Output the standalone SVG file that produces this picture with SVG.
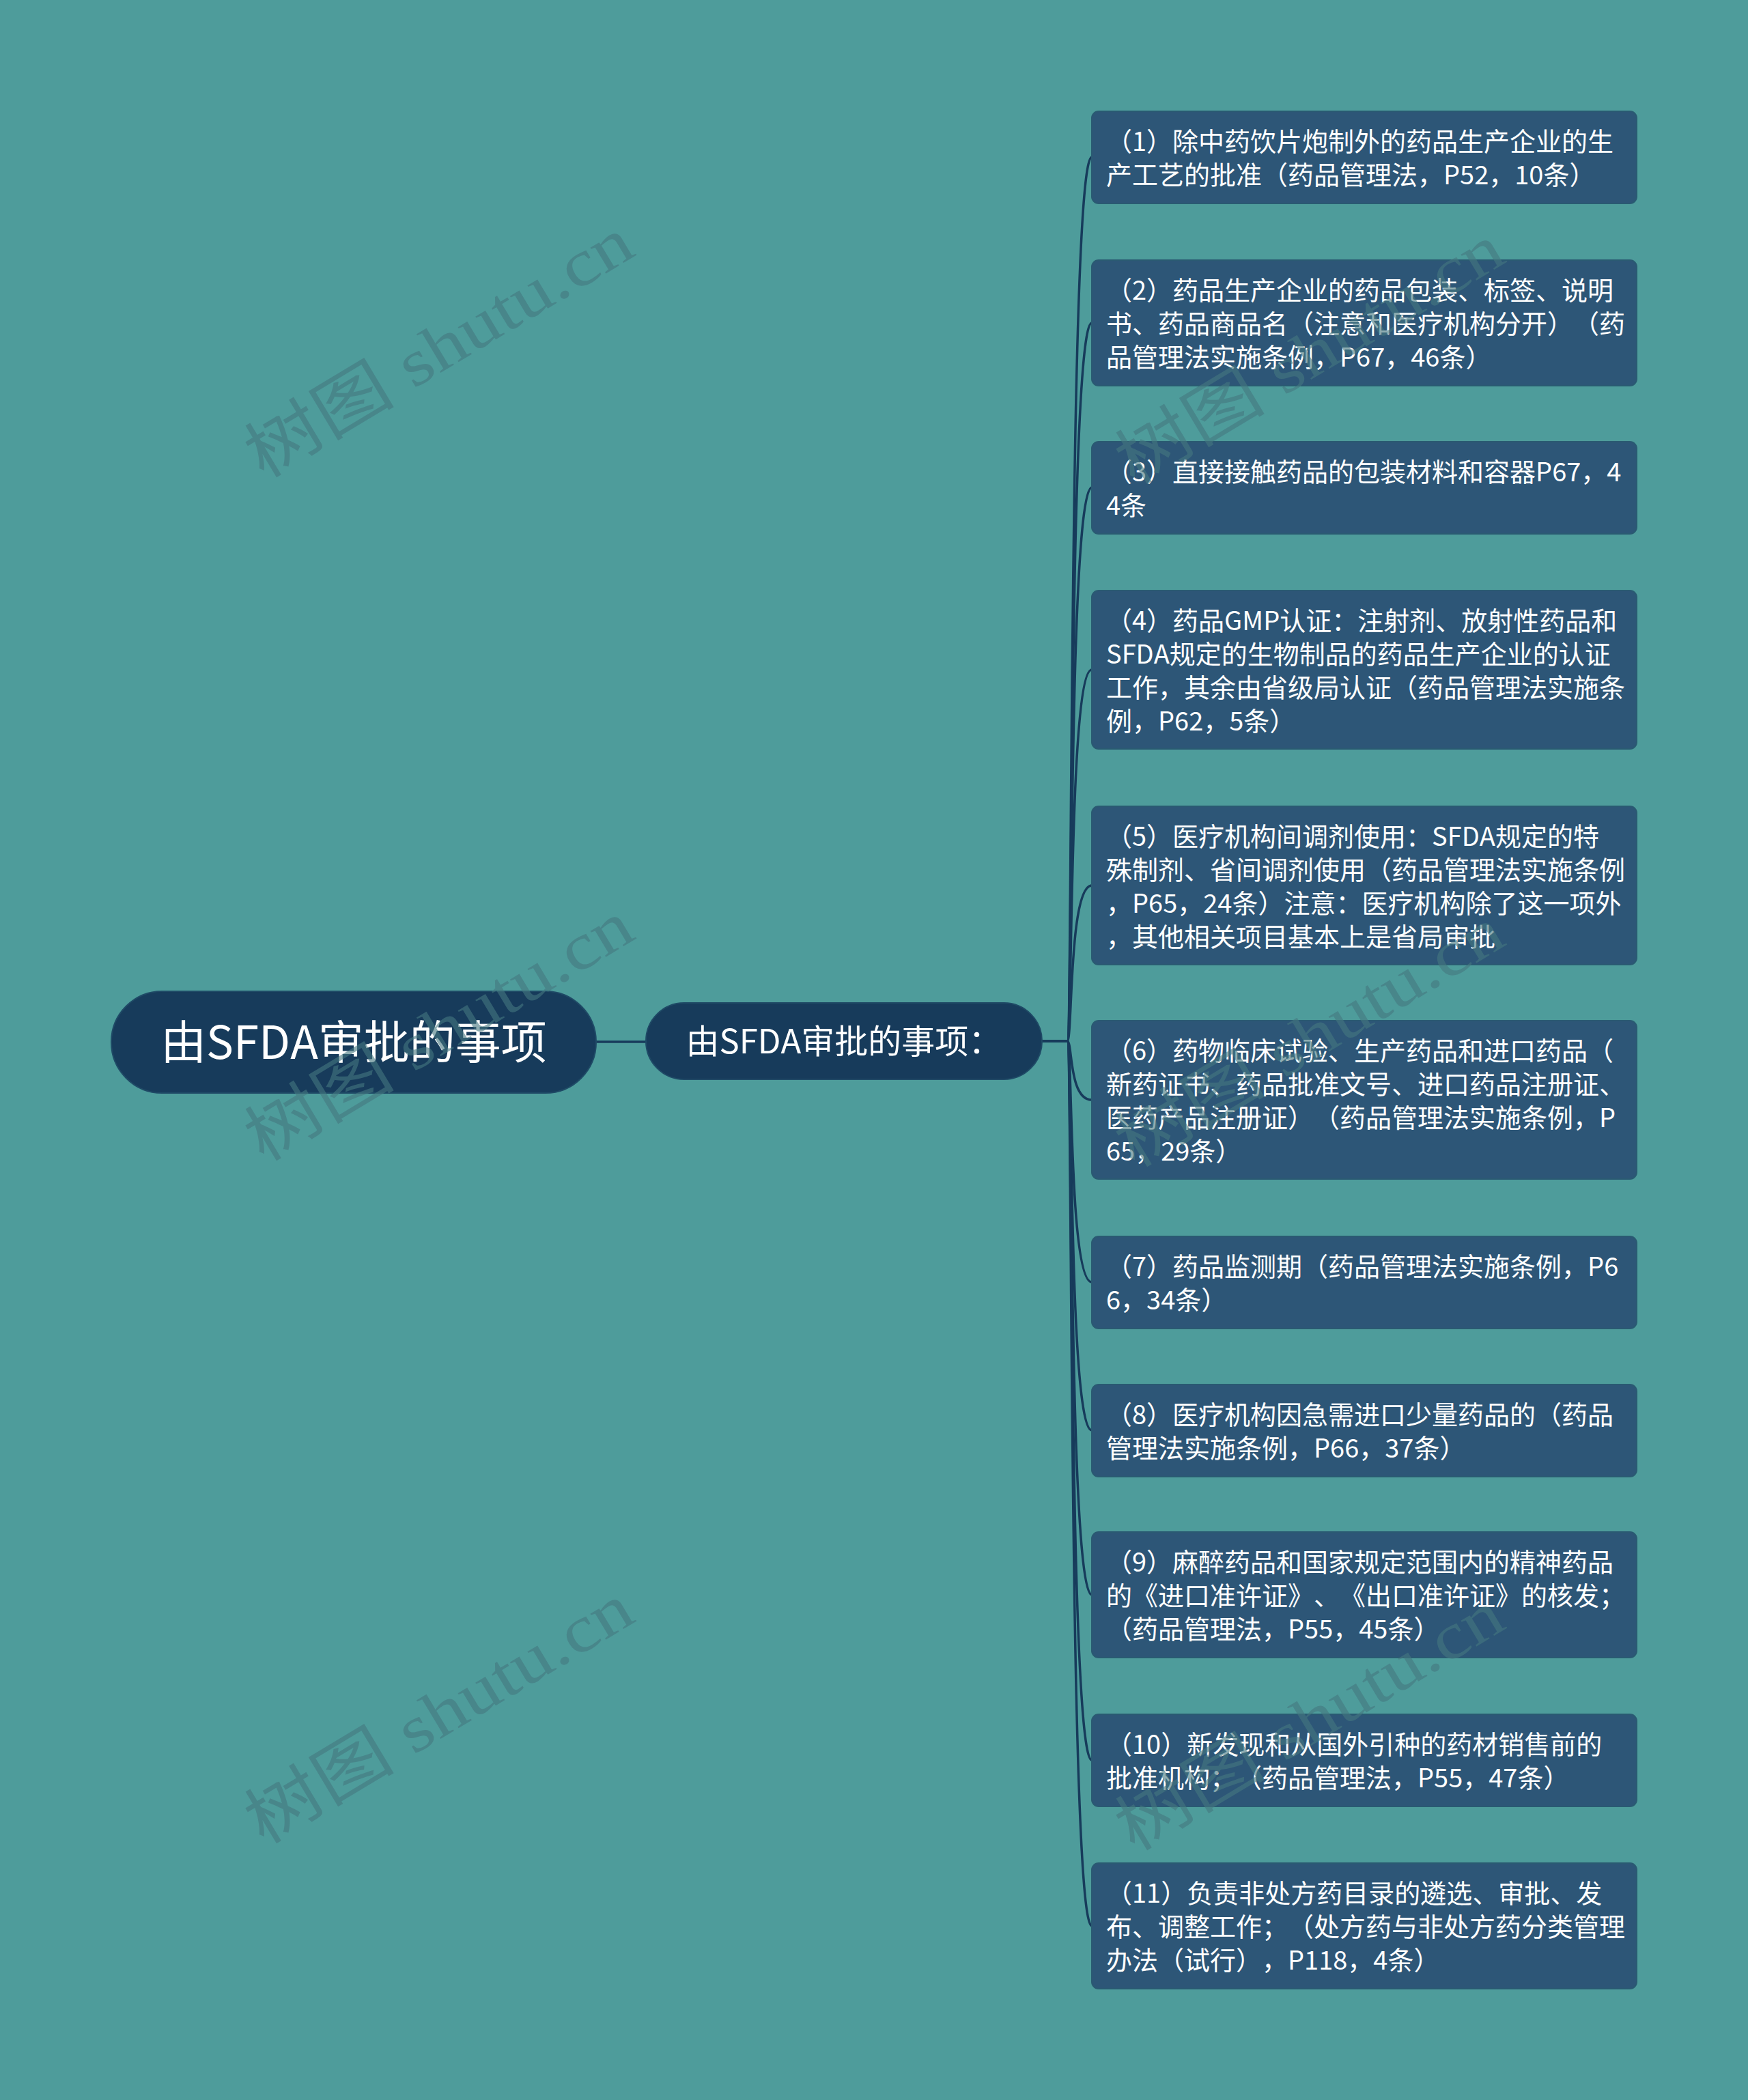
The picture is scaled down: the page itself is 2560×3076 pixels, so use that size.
<svg xmlns="http://www.w3.org/2000/svg" width="2560" height="3076" viewBox="0 0 2560 3076">
<style>
text{text-spacing-trim:space-all;font-kerning:none}
.bg{fill:#4E9C9B}
.leaf rect{fill:#2D5677;stroke:#2A5A72;stroke-width:2}
.leaf text{font-family:"Noto Sans CJK SC","Noto Sans",sans-serif;font-size:38px;fill:#FFFFFF}
.hub rect{fill:#173B5B;stroke:#1F4A66;stroke-width:2}
.hub text{font-family:"Noto Sans CJK SC","Noto Sans",sans-serif;fill:#FFFFFF;text-anchor:middle}
.edge{fill:none;stroke:#173B5B;stroke-width:3.5}
.wm{font-family:"Liberation Serif","Noto Sans CJK SC",serif;font-size:96px;fill:#457880;opacity:0.6}
</style>
<rect class="bg" x="0" y="0" width="2560" height="3076"/>

<g id="connectors">
<path class="edge" d="M873,1526 H946"/>
<path class="edge" d="M1526,1525 H1563 C1571,1525 1565,230 1599,230"/>
<path class="edge" d="M1526,1525 H1563 C1571,1525 1565,473 1599,473"/>
<path class="edge" d="M1526,1525 H1563 C1571,1525 1565,714 1599,714"/>
<path class="edge" d="M1526,1525 H1563 C1571,1525 1565,981 1599,981"/>
<path class="edge" d="M1526,1525 H1563 C1571,1525 1565,1297 1599,1297"/>
<path class="edge" d="M1526,1525 H1563 C1571,1525 1565,1611 1599,1611"/>
<path class="edge" d="M1526,1525 H1563 C1571,1525 1565,1878 1599,1878"/>
<path class="edge" d="M1526,1525 H1563 C1571,1525 1565,2095 1599,2095"/>
<path class="edge" d="M1526,1525 H1563 C1571,1525 1565,2336 1599,2336"/>
<path class="edge" d="M1526,1525 H1563 C1571,1525 1565,2578 1599,2578"/>
<path class="edge" d="M1526,1525 H1563 C1571,1525 1565,2821 1599,2821"/>
</g>

<g id="root" class="hub">
<rect x="163" y="1452" width="710" height="149" rx="74.5"/>
<text x="518" y="1551" font-size="67">由SFDA审批的事项</text>
</g>

<g id="mid" class="hub">
<rect x="946" y="1469" width="580" height="112" rx="56"/>
<text x="1236" y="1543" font-size="49">由SFDA审批的事项：</text>
</g>

<g id="leaf1" class="leaf">
<rect x="1599" y="163" width="798" height="135" rx="10"/>
<text x="1620" y="221"><tspan x="1620">（1）除中药饮片炮制外的药品生产企业的生</tspan><tspan x="1620" dy="49">产工艺的批准（药品管理法，P52，10条）</tspan></text>
</g>
<g id="leaf2" class="leaf">
<rect x="1599" y="381" width="798" height="184" rx="10"/>
<text x="1620" y="439"><tspan x="1620">（2）药品生产企业的药品包装、标签、说明</tspan><tspan x="1620" dy="49">书、药品商品名（注意和医疗机构分开）（药</tspan><tspan x="1620" dy="49">品管理法实施条例，P67，46条）</tspan></text>
</g>
<g id="leaf3" class="leaf">
<rect x="1599" y="647" width="798" height="135" rx="10"/>
<text x="1620" y="705"><tspan x="1620">（3）直接接触药品的包装材料和容器P67，4</tspan><tspan x="1620" dy="49">4条</tspan></text>
</g>
<g id="leaf4" class="leaf">
<rect x="1599" y="865" width="798" height="232" rx="10"/>
<text x="1620" y="923"><tspan x="1620">（4）药品GMP认证：注射剂、放射性药品和</tspan><tspan x="1620" dy="49">SFDA规定的生物制品的药品生产企业的认证</tspan><tspan x="1620" dy="49">工作，其余由省级局认证（药品管理法实施条</tspan><tspan x="1620" dy="49">例，P62，5条）</tspan></text>
</g>
<g id="leaf5" class="leaf">
<rect x="1599" y="1181" width="798" height="232" rx="10"/>
<text x="1620" y="1239"><tspan x="1620">（5）医疗机构间调剂使用：SFDA规定的特</tspan><tspan x="1620" dy="49">殊制剂、省间调剂使用（药品管理法实施条例</tspan><tspan x="1620" dy="49">，P65，24条）注意：医疗机构除了这一项外</tspan><tspan x="1620" dy="49">，其他相关项目基本上是省局审批</tspan></text>
</g>
<g id="leaf6" class="leaf">
<rect x="1599" y="1495" width="798" height="232" rx="10"/>
<text x="1620" y="1553"><tspan x="1620">（6）药物临床试验、生产药品和进口药品（</tspan><tspan x="1620" dy="49">新药证书、药品批准文号、进口药品注册证、</tspan><tspan x="1620" dy="49">医药产品注册证）（药品管理法实施条例，P</tspan><tspan x="1620" dy="49">65，29条）</tspan></text>
</g>
<g id="leaf7" class="leaf">
<rect x="1599" y="1811" width="798" height="135" rx="10"/>
<text x="1620" y="1869"><tspan x="1620">（7）药品监测期（药品管理法实施条例，P6</tspan><tspan x="1620" dy="49">6，34条）</tspan></text>
</g>
<g id="leaf8" class="leaf">
<rect x="1599" y="2028" width="798" height="135" rx="10"/>
<text x="1620" y="2086"><tspan x="1620">（8）医疗机构因急需进口少量药品的（药品</tspan><tspan x="1620" dy="49">管理法实施条例，P66，37条）</tspan></text>
</g>
<g id="leaf9" class="leaf">
<rect x="1599" y="2244" width="798" height="184" rx="10"/>
<text x="1620" y="2302"><tspan x="1620">（9）麻醉药品和国家规定范围内的精神药品</tspan><tspan x="1620" dy="49">的《进口准许证》、《出口准许证》的核发；</tspan><tspan x="1620" dy="49">（药品管理法，P55，45条）</tspan></text>
</g>
<g id="leaf10" class="leaf">
<rect x="1599" y="2511" width="798" height="135" rx="10"/>
<text x="1620" y="2569"><tspan x="1620">（10）新发现和从国外引种的药材销售前的</tspan><tspan x="1620" dy="49">批准机构；（药品管理法，P55，47条）</tspan></text>
</g>
<g id="leaf11" class="leaf">
<rect x="1599" y="2729" width="798" height="184" rx="10"/>
<text x="1620" y="2787"><tspan x="1620">（11）负责非处方药目录的遴选、审批、发</tspan><tspan x="1620" dy="49">布、调整工作；（处方药与非处方药分类管理</tspan><tspan x="1620" dy="49">办法（试行），P118，4条）</tspan></text>
</g>

<g id="watermarks">
<text class="wm" transform="translate(643,510) rotate(-31)" text-anchor="middle" dy="32" textLength="640" lengthAdjust="spacingAndGlyphs">树图 shutu.cn</text>
<text class="wm" transform="translate(643,1511) rotate(-31)" text-anchor="middle" dy="32" textLength="640" lengthAdjust="spacingAndGlyphs">树图 shutu.cn</text>
<text class="wm" transform="translate(643,2511) rotate(-31)" text-anchor="middle" dy="32" textLength="640" lengthAdjust="spacingAndGlyphs">树图 shutu.cn</text>
<text class="wm" transform="translate(1918,520) rotate(-31)" text-anchor="middle" dy="32" textLength="640" lengthAdjust="spacingAndGlyphs">树图 shutu.cn</text>
<text class="wm" transform="translate(1918,1520) rotate(-31)" text-anchor="middle" dy="32" textLength="640" lengthAdjust="spacingAndGlyphs">树图 shutu.cn</text>
<text class="wm" transform="translate(1918,2521) rotate(-31)" text-anchor="middle" dy="32" textLength="640" lengthAdjust="spacingAndGlyphs">树图 shutu.cn</text>
</g>
</svg>
